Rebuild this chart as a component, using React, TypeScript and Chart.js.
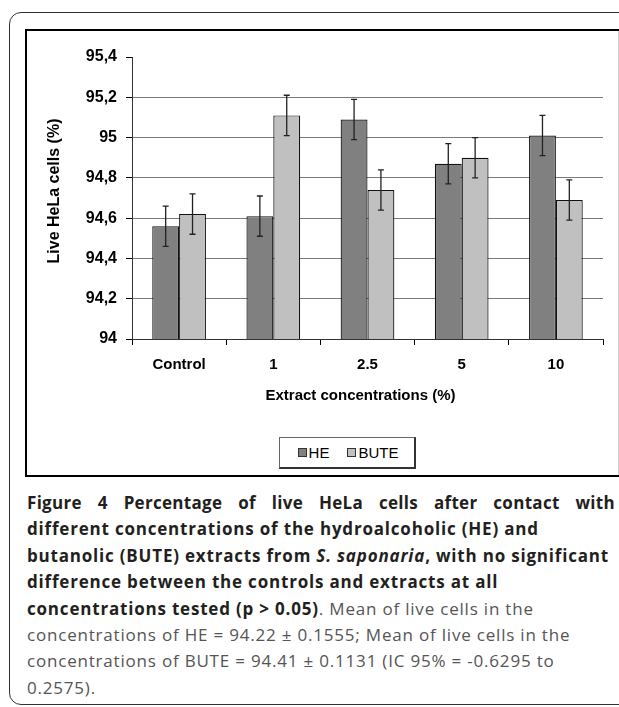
import React, { useEffect, useRef } from "react";
import { Chart, registerables } from "chart.js";

Chart.register(...registerables);

const categories = ["Control", "1", "2.5", "5", "10"];
const heValues = [94.56, 94.61, 95.09, 94.87, 95.01];
const buteValues = [94.62, 95.11, 94.74, 94.9, 94.69];
const heErrors = [0.1, 0.1, 0.1, 0.1, 0.1];
const buteErrors = [0.1, 0.1, 0.1, 0.1, 0.1];
const yTickLabels = ["94", "94,2", "94,4", "94,6", "94,8", "95", "95,2", "95,4"];
const seriesNames = ["HE", "BUTE"];
const yTitle = "Live HeLa cells (%)";
const xTitle = "Extract concentrations (%)";

const HE_COLOR = "#808080";
const BUTE_COLOR = "#c0c0c0";
const AXIS_FONT = "'Liberation Sans', Arial, sans-serif";

const errorBarPlugin = {
  id: "errorBars",
  afterDatasetsDraw(chart: any) {
    const ctx = chart.ctx;
    const yScale = chart.scales.y;
    const errs = [heErrors, buteErrors];
    chart.data.datasets.forEach((ds: any, i: number) => {
      const meta = chart.getDatasetMeta(i);
      meta.data.forEach((bar: any, j: number) => {
        const v = ds.data[j];
        const e = errs[i][j];
        const yT = yScale.getPixelForValue(v + e);
        const yB = yScale.getPixelForValue(v - e);
        const x = bar.x;
        ctx.save();
        ctx.strokeStyle = "#222";
        ctx.lineWidth = 1.3;
        ctx.beginPath();
        ctx.moveTo(x, yT);
        ctx.lineTo(x, yB);
        ctx.moveTo(x - 3, yT);
        ctx.lineTo(x + 3, yT);
        ctx.moveTo(x - 3, yB);
        ctx.lineTo(x + 3, yB);
        ctx.stroke();
        ctx.restore();
      });
    });
  },
};

const axisTitlePlugin = {
  id: "axisTitles",
  afterDraw(chart: any) {
    const ctx = chart.ctx;
    const a = chart.chartArea;
    ctx.save();
    ctx.fillStyle = "#000";
    ctx.textAlign = "center";
    ctx.textBaseline = "middle";
    ctx.font = `bold 15px ${AXIS_FONT}`;
    ctx.fillText(xTitle, (a.left + a.right) / 2 - 7, a.bottom + 57);
    ctx.translate(a.left - 77, (a.top + a.bottom) / 2 - 7);
    ctx.rotate(-Math.PI / 2);
    ctx.font = `bold 16px ${AXIS_FONT}`;
    ctx.fillText(yTitle, 0, 0);
    ctx.restore();
  },
};

function BarChart() {
  const ref = useRef<HTMLCanvasElement | null>(null);
  useEffect(() => {
    if (!ref.current) return;
    const chart = new Chart(ref.current, {
      type: "bar",
      data: {
        labels: categories,
        datasets: [
          {
            label: seriesNames[0],
            data: heValues,
            backgroundColor: HE_COLOR,
            borderColor: "#111",
            borderWidth: 1.2,
            borderSkipped: false,
            categoryPercentage: 0.57,
            barPercentage: 1,
          },
          {
            label: seriesNames[1],
            data: buteValues,
            backgroundColor: BUTE_COLOR,
            borderColor: "#111",
            borderWidth: 1.2,
            borderSkipped: false,
            categoryPercentage: 0.57,
            barPercentage: 1,
          },
        ],
      },
      options: {
        animation: false,
        responsive: true,
        maintainAspectRatio: false,
        layout: { padding: { left: 0, right: 15, top: 26, bottom: 0 } },
        plugins: {
          legend: { display: false },
          tooltip: { enabled: false },
        },
        scales: {
          x: {
            grid: {
              display: true,
              drawOnChartArea: false,
              drawTicks: true,
              tickLength: 6,
              tickColor: "#000",
              offset: true,
            },
            border: { display: true, color: "#333", width: 1 },
            ticks: {
              color: "#000",
              padding: 11,
              font: { family: AXIS_FONT, size: 15, weight: "bold" },
            },
            afterFit: (scale: any) => {
              scale.height = 136;
            },
          },
          y: {
            min: 94,
            max: 95.4,
            grid: {
              color: (c: any) => (c.tick && c.tick.value >= 95.39 ? "rgba(0,0,0,0)" : "#7a7a7a"),
              tickColor: "#000",
              tickLength: 6,
              lineWidth: 1,
            },
            border: { display: true, color: "#333", width: 1 },
            ticks: {
              stepSize: 0.2,
              color: "#000",
              padding: 9,
              font: { family: AXIS_FONT, size: 16, weight: "bold" },
              callback: (_v: any, i: number) => yTickLabels[i],
            },
            afterFit: (scale: any) => {
              scale.width = 105;
            },
          },
        },
      },
      plugins: [errorBarPlugin, axisTitlePlugin],
    });
    return () => chart.destroy();
  }, []);
  return <canvas ref={ref} />;
}

const legendSwatch = (color: string): React.CSSProperties => ({
  display: "inline-block",
  width: 7,
  height: 7,
  background: color,
  border: "1px solid #333",
  marginRight: 2,
});

export default function App() {
  const bold: React.CSSProperties = { fontWeight: 700, color: "#231f20" };
  const reg: React.CSSProperties = { fontWeight: 400, color: "#555" };
  const lineStyle: React.CSSProperties = {
    height: 26.4,
    lineHeight: "26.4px",
    whiteSpace: "nowrap",
  };
  return (
    <div
      style={{
        position: "absolute",
        left: 0,
        top: 0,
        width: 619,
        height: 707,
        overflow: "hidden",
        background: "#fff",
      }}
    >
      <div
        style={{
          position: "absolute",
          left: 9,
          top: 12,
          width: 660,
          height: 693,
          boxSizing: "border-box",
          border: "1.5px solid #333",
          borderRadius: 12,
        }}
      />
      <div
        style={{
          position: "absolute",
          left: 25,
          top: 29,
          width: 640,
          height: 448,
          boxSizing: "border-box",
          border: "2px solid #000",
        }}
      />
      <div
        style={{
          position: "absolute",
          left: 618,
          top: 31,
          width: 1,
          height: 444,
          background: "#d0d0d0",
        }}
      />
      <div style={{ position: "absolute", left: 27, top: 31, width: 591, height: 444 }}>
        <BarChart />
      </div>
      <div
        style={{
          position: "absolute",
          left: 279,
          top: 437,
          width: 137,
          height: 32,
          boxSizing: "border-box",
          borderTop: "1px solid #666",
          borderLeft: "1px solid #666",
          borderRight: "2px solid #333",
          borderBottom: "2px solid #333",
          background: "#fff",
          display: "flex",
          alignItems: "center",
          justifyContent: "center",
          fontFamily: AXIS_FONT,
          fontSize: 15,
          color: "#000",
          paddingLeft: 2,
        }}
      >
        <span style={{ display: "flex", alignItems: "center", marginRight: 18 }}>
          <span style={legendSwatch(HE_COLOR)} />
          {seriesNames[0]}
        </span>
        <span style={{ display: "flex", alignItems: "center" }}>
          <span style={legendSwatch(BUTE_COLOR)} />
          {seriesNames[1]}
        </span>
      </div>
      <div
        style={{
          position: "absolute",
          left: 27,
          top: 490,
          width: 588,
          fontFamily: "'Open Sans', 'Noto Sans', sans-serif",
          fontSize: 17,
          letterSpacing: "0.8px",
        }}
      >
        <div
          style={{
            ...lineStyle,
            ...bold,
            letterSpacing: "0.3px",
            textAlign: "justify",
            textAlignLast: "justify" as any,
          }}
        >
          Figure 4 Percentage of live HeLa cells after contact with
        </div>
        <div style={{ ...lineStyle, ...bold }}>
          different concentrations of the hydroalcoholic (HE) and
        </div>
        <div style={{ ...lineStyle, ...bold }}>
          butanolic (BUTE) extracts from <i>S. saponaria</i>, with no significant
        </div>
        <div style={{ ...lineStyle, ...bold }}>
          difference between the controls and extracts at all
        </div>
        <div style={lineStyle}>
          <span style={bold}>concentrations tested (p &gt; 0.05)</span>
          <span style={reg}>. Mean of live cells in the</span>
        </div>
        <div style={{ ...lineStyle, ...reg }}>
          concentrations of HE = 94.22 ± 0.1555; Mean of live cells in the
        </div>
        <div style={{ ...lineStyle, ...reg }}>
          concentrations of BUTE = 94.41 ± 0.1131 (IC 95% = -0.6295 to
        </div>
        <div style={{ ...lineStyle, ...reg }}>0.2575).</div>
      </div>
    </div>
  );
}
